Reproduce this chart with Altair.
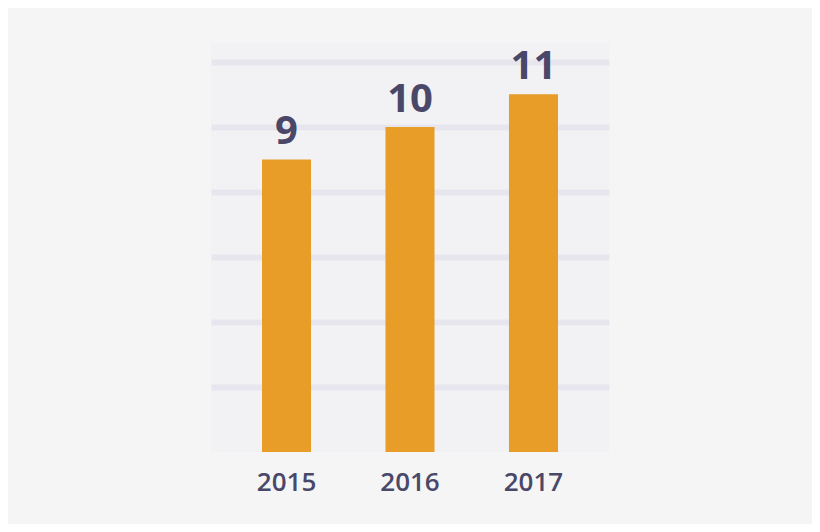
import altair as alt
import pandas as pd

years = ["2015", "2016", "2017"]
values = [9, 10, 11]
grid_values = [2, 4, 6, 8, 10, 12]

df = pd.DataFrame({"year": years, "value": values})

bar_color = "#E89D29"
text_color = "#4A4868"

x = alt.X(
    "year:N",
    sort=years,
    scale=alt.Scale(paddingInner=0.603, paddingOuter=0.413),
    axis=alt.Axis(
        title=None,
        labelAngle=0,
        labelFont="Open Sans",
        labelFontSize=26,
        labelFontWeight=600,
        labelColor=text_color,
        labelPadding=17,
        domain=False,
        ticks=False,
        grid=False,
    ),
)
y = alt.Y(
    "value:Q",
    scale=alt.Scale(domain=[0, 12.58], nice=False, zero=True),
    axis=alt.Axis(
        title=None,
        values=grid_values,
        labels=False,
        ticks=False,
        domain=False,
        grid=True,
        gridColor="#E7E5ED",
        gridWidth=6,
    ),
)

bars = alt.Chart(df).mark_bar(color=bar_color).encode(x=x, y=y)

labels = alt.Chart(df).mark_text(
    font="Open Sans",
    fontSize=40,
    fontWeight="bold",
    color=text_color,
    baseline="alphabetic",
    dy=-15,
).encode(x=alt.X("year:N", sort=years), y="value:Q", text="value:Q")

chart = (
    alt.layer(bars, labels)
    .properties(
        width=398,
        height=409,
        background="#F5F5F6",
        autosize=alt.AutoSizeParams(type="none"),
        padding={"left": 203, "top": 35, "right": 203, "bottom": 72},
    )
    .configure_view(fill="#F2F2F5", stroke=None)
)

chart.save("out.html", embed_options={"renderer": "svg", "actions": False})
